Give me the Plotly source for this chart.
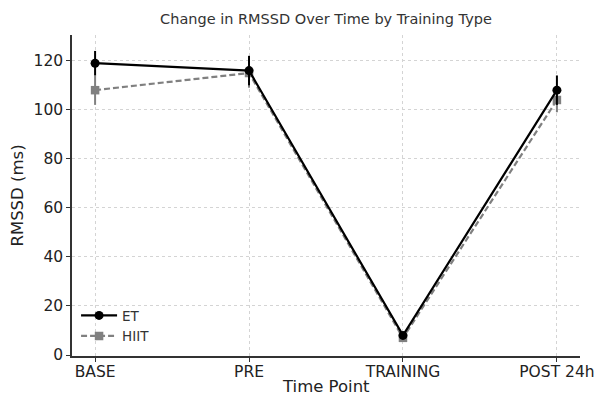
import plotly.graph_objects as go

time_points = ["BASE", "PRE", "TRAINING", "POST 24h"]
et_values = [119, 116, 8, 108]
et_errors = [5, 6, 1, 6]
hiit_values = [108, 115, 7, 104]
hiit_errors = [6, 6, 1, 5]
y_ticks = [0, 20, 40, 60, 80, 100, 120]

x_pos = list(range(len(time_points)))

fig = go.Figure()
fig.add_trace(go.Scatter(
    x=x_pos, y=hiit_values, name="HIIT", mode="lines+markers",
    line=dict(color="#808080", width=2.2, dash="6px,3px"),
    marker=dict(symbol="square", size=8.5, color="#808080"),
    error_y=dict(type="data", array=hiit_errors, visible=True, color="#808080", thickness=2, width=0),
))
fig.add_trace(go.Scatter(
    x=x_pos, y=et_values, name="ET", mode="lines+markers",
    line=dict(color="black", width=2.2),
    marker=dict(symbol="circle", size=9, color="black"),
    error_y=dict(type="data", array=et_errors, visible=True, color="black", thickness=2, width=0),
))

font_family = "DejaVu Sans"
fig.update_layout(
    width=598, height=401,
    margin=dict(l=72, r=18, t=35, b=45, autoexpand=False),
    paper_bgcolor="white", plot_bgcolor="white",
    font=dict(family=font_family, color="#222222"),
    title=dict(text="Change in RMSSD Over Time by Training Type", x=326/598, xanchor="center",
               y=1 - 19/401, yanchor="middle", font=dict(size=14.5, color="#333333")),
    legend=dict(x=0.008, y=0.012, xanchor="left", yanchor="bottom", traceorder="reversed",
                font=dict(size=13.5, color="#333333"), bgcolor="rgba(255,255,255,0)",
                itemwidth=36, tracegroupgap=0),
    showlegend=True,
    annotations=[dict(text="Time Point", xref="paper", yref="paper", x=0.5, y=(356 - 387) / 321,
                      xanchor="center", yanchor="middle", showarrow=False,
                      font=dict(size=16.5, color="#222222"))],
)
fig.update_xaxes(
    tickmode="array", tickvals=x_pos, ticktext=time_points,
    range=[-0.15, 3.15], showline=True, linecolor="#333333", linewidth=1.5,
    ticks="outside", ticklen=4, tickcolor="#333333", tickwidth=1.2,
    tickfont=dict(size=15.5, color="#222222"), automargin=False, ticklabelstandoff=-3,
    showgrid=True, gridcolor="#d4d4d4", griddash="3px,3px", gridwidth=1,
    zeroline=False, mirror=False,
)
fig.update_yaxes(
    tickmode="array", tickvals=y_ticks,
    range=[-0.4, 130.5], showline=True, linecolor="#333333", linewidth=1.5,
    ticks="outside", ticklen=4, tickcolor="#333333", tickwidth=1.2,
    tickfont=dict(size=15.5, color="#222222"), automargin=False,
    showgrid=True, gridcolor="#d4d4d4", griddash="3px,3px", gridwidth=1,
    zeroline=False, mirror=False,
    title=dict(text="RMSSD (ms)", font=dict(size=16.5, color="#222222"), standoff=6),
)

fig.write_html("out.html", config={"displayModeBar": False},
               post_script="document.body.style.margin='0';")
